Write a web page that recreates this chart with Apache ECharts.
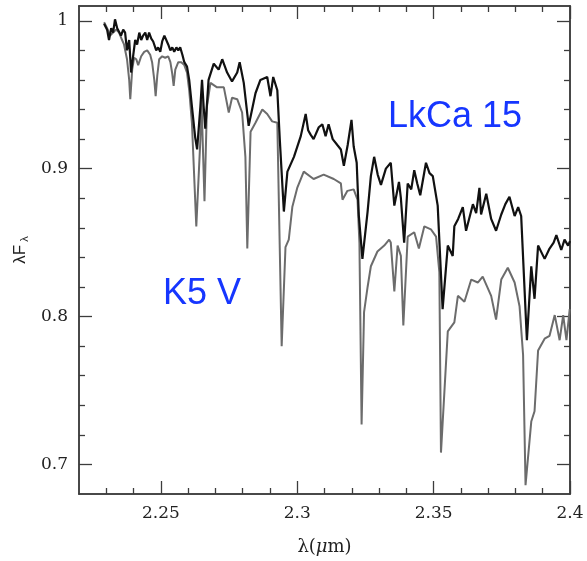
<!DOCTYPE html>
<html>
<head>
<meta charset="utf-8">
<script src="https://cdn.jsdelivr.net/npm/echarts@6/dist/echarts.min.js"></script>
<style>
html,body{margin:0;padding:0;background:#fff;}
#chart{width:587px;height:561px;}
</style>
</head>
<body>
<div id="chart"></div>
<script>
// LkCa 15 spectrum (black)
var lkcaWave = [2.2292,2.2303,2.2310,2.2318,2.2325,2.2332,2.2340,2.2347,2.2354,2.2362,2.2369,2.2376,2.2384,2.2391,2.2399,2.2406,2.2413,2.2421,2.2428,2.2435,2.2443,2.2450,2.2457,2.2465,2.2472,2.2483,2.2490,2.2498,2.2505,2.2513,2.2520,2.2527,2.2535,2.2542,2.2549,2.2557,2.2564,2.2571,2.2579,2.2586,2.2596,2.2604,2.2614,2.2626,2.2633,2.2645,2.2651,2.2657,2.2663,2.2675,2.2694,2.2712,2.2725,2.2743,2.2761,2.2780,2.2789,2.2804,2.2822,2.2847,2.2865,2.2890,2.2902,2.2912,2.2927,2.2936,2.2951,2.2964,2.2988,2.3013,2.3031,2.3040,2.3049,2.3060,2.3079,2.3092,2.3104,2.3115,2.3130,2.3147,2.3160,2.3171,2.3185,2.3199,2.3207,2.3218,2.3226,2.3239,2.3258,2.3270,2.3282,2.3295,2.3307,2.3325,2.3343,2.3356,2.3373,2.3380,2.3392,2.3405,2.3418,2.3429,2.3440,2.3451,2.3472,2.3485,2.3497,2.3515,2.3533,2.3552,2.3570,2.3576,2.3590,2.3607,2.3619,2.3644,2.3656,2.3668,2.3674,2.3693,2.3711,2.3729,2.3748,2.3763,2.3778,2.3797,2.3810,2.3821,2.3842,2.3858,2.3870,2.3883,2.3907,2.3925,2.3940,2.3950,2.3968,2.3980,2.3993,2.4000];
var lkcaFlux = [0.998,0.994,0.987,0.995,0.992,1.001,0.995,0.996,0.990,0.994,0.992,0.980,0.987,0.965,0.977,0.987,0.984,0.992,0.987,0.990,0.992,0.987,0.992,0.988,0.986,0.980,0.982,0.979,0.986,0.990,0.990,0.984,0.980,0.982,0.979,0.982,0.980,0.982,0.977,0.972,0.969,0.960,0.942,0.921,0.913,0.942,0.960,0.942,0.927,0.960,0.971,0.967,0.974,0.965,0.959,0.965,0.972,0.958,0.929,0.951,0.960,0.962,0.949,0.962,0.953,0.920,0.871,0.898,0.908,0.922,0.937,0.926,0.923,0.920,0.928,0.930,0.922,0.930,0.920,0.916,0.913,0.902,0.916,0.933,0.915,0.904,0.868,0.839,0.871,0.895,0.908,0.896,0.889,0.900,0.904,0.875,0.891,0.880,0.850,0.890,0.886,0.899,0.890,0.882,0.904,0.897,0.895,0.875,0.805,0.848,0.841,0.861,0.866,0.874,0.858,0.876,0.870,0.887,0.869,0.883,0.866,0.858,0.869,0.876,0.881,0.868,0.874,0.868,0.784,0.834,0.812,0.848,0.839,0.846,0.850,0.855,0.845,0.852,0.848,0.851];

// K5 V spectrum (grey)
var k5Wave = [2.2292,2.2303,2.2314,2.2325,2.2336,2.2347,2.2358,2.2365,2.2376,2.2384,2.2388,2.2395,2.2402,2.2410,2.2417,2.2428,2.2439,2.2450,2.2461,2.2468,2.2476,2.2481,2.2487,2.2494,2.2505,2.2516,2.2527,2.2535,2.2542,2.2547,2.2553,2.2564,2.2575,2.2586,2.2596,2.2604,2.2614,2.2630,2.2645,2.2649,2.2660,2.2669,2.2682,2.2706,2.2731,2.2749,2.2761,2.2780,2.2798,2.2810,2.2817,2.2829,2.2847,2.2872,2.2890,2.2908,2.2927,2.2943,2.2957,2.2969,2.2982,2.3000,2.3013,2.3024,2.3060,2.3097,2.3134,2.3160,2.3166,2.3184,2.3207,2.3221,2.3228,2.3236,2.3245,2.3258,2.3270,2.3294,2.3319,2.3337,2.3343,2.3356,2.3368,2.3380,2.3389,2.3405,2.3429,2.3446,2.3466,2.3490,2.3509,2.3521,2.3527,2.3552,2.3576,2.3589,2.3613,2.3638,2.3662,2.3680,2.3711,2.3729,2.3748,2.3772,2.3797,2.3815,2.3828,2.3837,2.3858,2.3870,2.3883,2.3907,2.3925,2.3944,2.3962,2.3975,2.3987,2.3999];
var k5Flux = [0.999,0.995,0.990,0.992,0.994,0.992,0.987,0.984,0.974,0.960,0.947,0.967,0.975,0.974,0.970,0.976,0.979,0.980,0.977,0.972,0.960,0.949,0.963,0.974,0.976,0.975,0.976,0.972,0.964,0.956,0.967,0.972,0.972,0.970,0.965,0.953,0.931,0.861,0.920,0.947,0.878,0.942,0.958,0.955,0.955,0.938,0.948,0.947,0.938,0.908,0.846,0.925,0.931,0.940,0.937,0.932,0.931,0.780,0.847,0.852,0.874,0.887,0.893,0.898,0.893,0.896,0.893,0.890,0.879,0.885,0.886,0.879,0.850,0.727,0.803,0.820,0.834,0.844,0.848,0.852,0.850,0.817,0.848,0.841,0.794,0.854,0.857,0.846,0.861,0.859,0.854,0.830,0.708,0.790,0.796,0.814,0.810,0.825,0.823,0.827,0.814,0.798,0.825,0.833,0.823,0.807,0.774,0.686,0.729,0.736,0.777,0.785,0.787,0.801,0.784,0.801,0.784,0.805];

// Axis ticks and labels
var xMajorTicks = [2.25, 2.3, 2.35, 2.4];
var xMinorTicks = [2.23, 2.24, 2.26, 2.27, 2.28, 2.29, 2.31, 2.32, 2.33, 2.34, 2.36, 2.37, 2.38, 2.39];
var yMajorTicks = [0.7, 0.8, 0.9, 1];
var yMinorTicks = [0.72, 0.74, 0.76, 0.78, 0.82, 0.84, 0.86, 0.88, 0.92, 0.94, 0.96, 0.98];
var xRange = [2.22, 2.4];
var yRange = [0.68, 1.01];

var zip = function (a, b) { return a.map(function (v, i) { return [v, b[i]]; }); };

var axisCol = '#3c3c3c';
var serif = 'DejaVu Serif';

function xAx(pos, ticks, len, showLabel) {
  return {
    type: 'value', position: pos, min: xRange[0], max: xRange[1],
    axisLine: { show: true, onZero: false, lineStyle: { color: axisCol, width: 1.5 } },
    axisTick: { show: true, inside: true, length: len, customValues: ticks, lineStyle: { color: axisCol, width: 1.3 } },
    axisLabel: { show: showLabel, customValues: xMajorTicks, margin: 11, color: '#222', fontFamily: serif, fontSize: 17 },
    splitLine: { show: false }
  };
}
function yAx(pos, ticks, len, showLabel) {
  return {
    type: 'value', position: pos, min: yRange[0], max: yRange[1],
    axisLine: { show: true, onZero: false, lineStyle: { color: axisCol, width: 1.5 } },
    axisTick: { show: true, inside: true, length: len, customValues: ticks, lineStyle: { color: axisCol, width: 1.3 } },
    axisLabel: { show: showLabel, customValues: yMajorTicks, margin: 11, color: '#222', fontFamily: serif, fontSize: 17 },
    splitLine: { show: false }
  };
}

var xAxes = [xAx('bottom', xMajorTicks, 13, true), xAx('bottom', xMinorTicks, 6, false), xAx('top', xMajorTicks, 13, false), xAx('top', xMinorTicks, 6, false)];
xAxes[0].name = '{a|λ(}{b|μ}{a|m)}';
xAxes[0].nameLocation = 'middle';
xAxes[0].nameGap = 44;
xAxes[0].nameTextStyle = { rich: { a: { fontFamily: serif, fontSize: 18, color: '#222' }, b: { fontFamily: serif, fontStyle: 'italic', fontSize: 18, color: '#222' } } };

var yAxes = [yAx('left', yMajorTicks, 13, true), yAx('left', yMinorTicks, 6, false), yAx('right', yMajorTicks, 13, false), yAx('right', yMinorTicks, 6, false)];
yAxes[0].name = '{a|λF}{b|λ}';
yAxes[0].nameLocation = 'middle';
yAxes[0].nameRotate = 90;
yAxes[0].nameGap = 46;
yAxes[0].nameTextStyle = { rich: { a: { fontFamily: 'Liberation Sans', fontSize: 17, color: '#222', lineHeight: 20 }, b: { fontFamily: 'Liberation Sans', fontSize: 11, color: '#222', padding: [8, 0, 0, 3], lineHeight: 20 } } };

var chart = echarts.init(document.getElementById('chart'), null, { renderer: 'canvas' });
chart.setOption({
  animation: false,
  backgroundColor: '#fff',
  grid: { left: 79, right: 17, top: 6, bottom: 64, containLabel: false },
  xAxis: xAxes,
  yAxis: yAxes,
  series: [
    { name: 'K5 V', type: 'line', xAxisIndex: 0, yAxisIndex: 0, data: zip(k5Wave, k5Flux), showSymbol: false, smooth: false,
      lineStyle: { color: '#6c6c6c', width: 2 }, z: 2 },
    { name: 'LkCa 15', type: 'line', xAxisIndex: 0, yAxisIndex: 0, data: zip(lkcaWave, lkcaFlux), showSymbol: false, smooth: false,
      lineStyle: { color: '#111111', width: 2.2 }, z: 3 }
  ],
  graphic: [
    { type: 'text', left: 388, top: 99, style: { text: 'LkCa 15', fill: '#1636ff', font: '36px "Liberation Sans", Arial, sans-serif' } },
    { type: 'text', left: 163, top: 276, style: { text: 'K5 V', fill: '#1636ff', font: '36px "Liberation Sans", Arial, sans-serif' } }
  ]
});
</script>
</body>
</html>
